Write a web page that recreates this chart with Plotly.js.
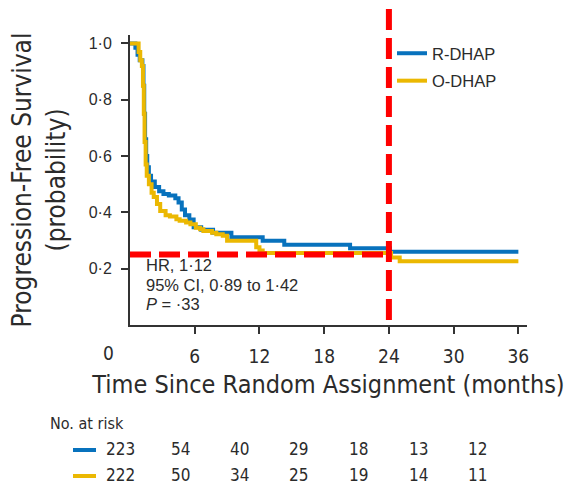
<!DOCTYPE html>
<html>
<head>
<meta charset="utf-8">
<script src="https://cdn.plot.ly/plotly-3.0.1.min.js"></script>
<style>
  html, body { margin: 0; padding: 0; background: #fff; }
  #chart { width: 569px; height: 485px; }
</style>
</head>
<body>
<div id="chart"></div>
<script>
// Kaplan-Meier progression-free survival, R-DHAP vs O-DHAP
const armNames = ["R-DHAP", "O-DHAP"];

const monthsR = [0, 0.5, 0.7, 0.9, 1.15, 1.25, 1.32, 1.4, 1.5, 1.6, 1.75, 1.95, 2.3, 2.7, 3.1, 3.6, 4.2, 4.5, 4.8, 5.1, 5.5, 5.9, 6.6, 7.7, 9.4, 12.3, 14.3, 20.4, 24.1, 36];
const survR  = [1.0, 0.985, 0.96, 0.94, 0.92, 0.85, 0.75, 0.66, 0.6, 0.56, 0.53, 0.51, 0.49, 0.475, 0.465, 0.46, 0.45, 0.435, 0.41, 0.39, 0.375, 0.347, 0.338, 0.328, 0.312, 0.299, 0.285, 0.273, 0.26, 0.26];

const monthsO = [0, 0.7, 0.8, 0.95, 1.1, 1.2, 1.28, 1.35, 1.45, 1.55, 1.75, 2.0, 2.2, 2.5, 2.8, 3.3, 3.7, 4.3, 4.6, 5.2, 5.6, 6.1, 6.5, 6.8, 7.6, 8.0, 8.6, 9.0, 11.7, 12.0, 12.3, 24.2, 25.0, 36];
const survO  = [1.0, 1.0, 0.97, 0.94, 0.92, 0.85, 0.75, 0.65, 0.57, 0.53, 0.5, 0.47, 0.455, 0.43, 0.405, 0.39, 0.385, 0.376, 0.37, 0.364, 0.358, 0.345, 0.34, 0.334, 0.328, 0.322, 0.317, 0.299, 0.276, 0.265, 0.256, 0.24, 0.226, 0.226];

// Axis ticks
const xTickVals = [6, 12, 18, 24, 30, 36];
const xTickText = ["6", "12", "18", "24", "30", "36"];
const yTickVals = [0.2, 0.4, 0.6, 0.8, 1.0];
const yTickText = ["0·2", "0·4", "0·6", "0·8", "1·0"];

// Reference markers: landmark time and survival level
const landmarkMonth = 24;
const refSurvival = 0.25;

// Hazard ratio summary
const statLines = ["HR, 1·12", "95% CI, 0·89 to 1·42", "<i>P</i> = ·33"];

// Number at risk
const riskLabel = "No. at risk";
const riskR = [223, 54, 40, 29, 18, 13, 12];
const riskO = [222, 50, 34, 25, 19, 14, 11];

const BLUE = "#0872bd";
const YELLOW = "#ebb802";
const RED = "#ff0000";
const INK = "#2b2b2b";
const REG = "Liberation Sans, Arial, sans-serif";
const NARROW = "Liberation Sans Narrow, Arial Narrow, DejaVu Sans Condensed, sans-serif";

// Page geometry (pixels)
const W = 569, H = 485;
const M = { l: 130, r: 42, t: 35, b: 160 };
const plotW = W - M.l - M.r, plotH = H - M.t - M.b;
const px = x => (x - M.l) / plotW;          // pixel column -> paper x
const py = y => (H - M.b - y) / plotH;      // pixel row -> paper y

const traces = [
  { x: monthsR, y: survR, name: armNames[0], type: "scatter", mode: "lines", legendgroup: "r",
    line: { shape: "hv", color: BLUE, width: 4 }, legendrank: 1 },
  { x: monthsO, y: survO, name: armNames[1], type: "scatter", mode: "lines", legendgroup: "o",
    line: { shape: "hv", color: YELLOW, width: 4 }, legendrank: 2 }
];

const annotations = [];
// origin label sits left of the y axis
annotations.push({ x: 0, y: 0, xref: "x", yref: "y", text: "0", showarrow: false,
  xshift: -22, yshift: -28, font: { family: NARROW, size: 19, color: INK } });

statLines.forEach((t, i) => annotations.push({
  x: px(144), y: py(265 + i * 19.5), xref: "paper", yref: "paper", text: t,
  showarrow: false, xanchor: "left", yanchor: "middle",
  font: { family: REG, size: 16.5, color: INK }
}));

annotations.push({ x: px(48), y: py(423), xref: "paper", yref: "paper", text: riskLabel,
  showarrow: false, xanchor: "left", yanchor: "middle",
  font: { family: NARROW, size: 16, color: INK } });

const riskCols = [120, 180, 239, 298, 358, 418, 477];
[riskR, riskO].forEach((row, r) => row.forEach((n, i) => annotations.push({
  x: px(riskCols[i]), y: py(449 + r * 26), xref: "paper", yref: "paper", text: String(n),
  showarrow: false, xanchor: "center", yanchor: "middle", borderpad: 0,
  font: { family: NARROW, size: 17, color: INK }
})));

const shapes = [
  { type: "line", xref: "x", yref: "y", x0: 0, x1: landmarkMonth, y0: refSurvival, y1: refSurvival,
    line: { color: RED, width: 6, dash: "21px,8px" } },
  { type: "line", xref: "x", yref: "paper", x0: landmarkMonth, x1: landmarkMonth, y0: py(9), y1: py(322),
    line: { color: RED, width: 6, dash: "21px,8px" } },
  { type: "line", xref: "paper", yref: "paper", x0: px(73), x1: px(96), y0: py(450), y1: py(450),
    line: { color: BLUE, width: 4 } },
  { type: "line", xref: "paper", yref: "paper", x0: px(73), x1: px(96), y0: py(476), y1: py(476),
    line: { color: YELLOW, width: 4 } }
];

const layout = {
  width: W, height: H,
  margin: M,
  paper_bgcolor: "#fff", plot_bgcolor: "#fff",
  showlegend: true,
  legend: { x: px(392), y: py(36), xanchor: "left", yanchor: "top", bgcolor: "rgba(0,0,0,0)",
    traceorder: "grouped", tracegroupgap: 3,
    font: { family: REG, size: 16.5, color: INK }, borderwidth: 0 },
  xaxis: {
    range: [0, 36.8], tickvals: xTickVals, ticktext: xTickText,
    ticks: "outside", ticklen: 7, tickwidth: 2, tickcolor: "#333",
    showline: true, linewidth: 2, linecolor: "#333", mirror: false,
    showgrid: false, zeroline: false, ticklabelstandoff: 6,
    tickfont: { family: NARROW, size: 19, color: INK },
    title: { text: "Time Since Random Assignment (months)", standoff: 10,
      font: { family: NARROW, size: 25, color: INK } }
  },
  yaxis: {
    range: [0, 1.03], tickvals: yTickVals, ticktext: yTickText,
    ticks: "outside", ticklen: 7, tickwidth: 2, tickcolor: "#333",
    showline: true, linewidth: 2, linecolor: "#333",
    showgrid: false, zeroline: false, ticklabelstandoff: 6,
    tickfont: { family: REG, size: 16, color: INK },
    title: { text: "Progression-Free Survival<br>(probability)", standoff: 16,
      font: { family: NARROW, size: 26, color: INK } }
  },
  annotations: annotations,
  shapes: shapes
};

Plotly.newPlot("chart", traces, layout, { displayModeBar: false, staticPlot: true });
</script>
</body>
</html>
